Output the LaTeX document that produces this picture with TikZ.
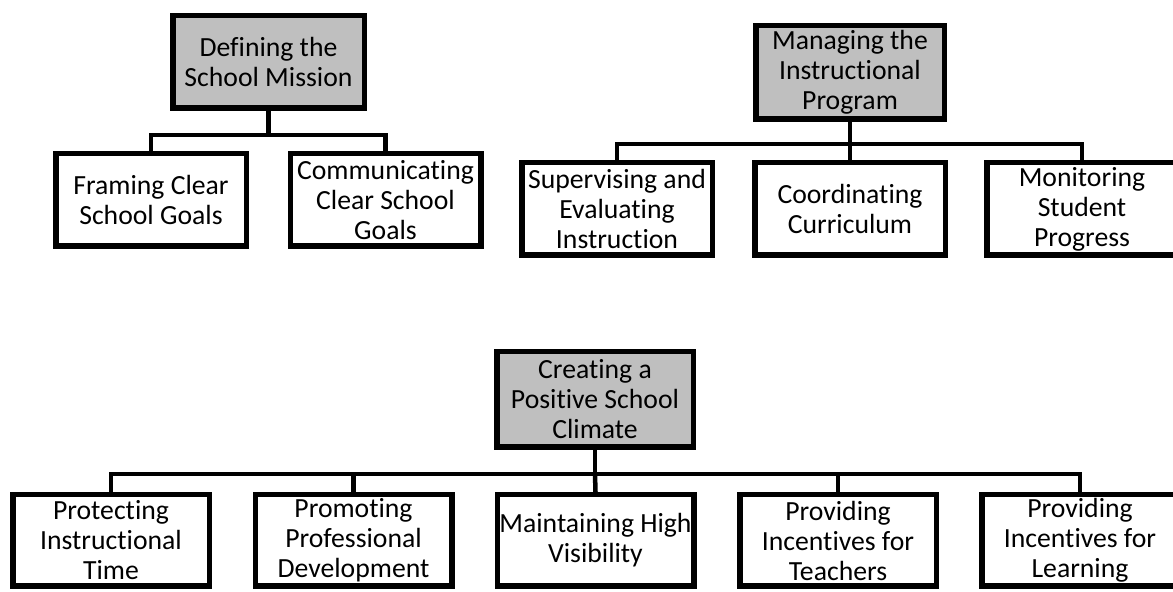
\documentclass[tikz,border=0pt]{standalone}
\usepackage{fontspec}
\setmainfont{Carlito}[Ligatures=NoCommon]
\usepackage{tikz}
\usetikzlibrary{positioning}
\definecolor{headgray}{RGB}{191,191,191}

\tikzset{
  leaf/.style={draw, line width=2.75pt, fill=white, inner sep=1pt, align=center,
    font=\fontsize{13.85pt}{15pt}\selectfont},
  head/.style={leaf, fill=headgray},
  topbox/.style={minimum width=95.25pt, minimum height=46.25pt},
  lowbox/.style={minimum width=98.25pt, minimum height=45.75pt},
  link/.style={line width=2.25pt}
}

\begin{document}
\begin{tikzpicture}[x=0.5pt,y=-0.5pt]
\useasboundingbox (0,0) rectangle (1173,592);
\clip (0,0) rectangle (1173,592);

% defining the school mission
\node[head,minimum width=95.75pt,minimum height=46.25pt] (mission) at (268.5,62) {Defining the\\School Mission};
\node[leaf,topbox] (framing)       at (151,200)   {Framing Clear\\School Goals};
\node[leaf,topbox] (communicating) at (385.5,200) {Communicating\\Clear School\\Goals};

% managing the instructional program
\node[head,minimum width=94.25pt,minimum height=46.75pt] (program) at (850,72.5) {Managing the\\Instructional\\Program};
\node[leaf,topbox] (supervising)  at (617,209)  {Supervising and\\Evaluating\\Instruction};
\node[leaf,topbox] (coordinating) at (850,209)  {Coordinating\\Curriculum};
\node[leaf,topbox] (monitoring)   at (1082,209) {Monitoring\\Student\\Progress};

% creating a positive school climate
\node[head,minimum width=98.25pt,minimum height=47.75pt] (climate) at (595,399.5) {Creating a\\Positive School\\Climate};
\node[leaf,lowbox] (protecting)  at (111,540.5)   {Protecting\\Instructional\\Time};
\node[leaf,lowbox] (promoting)   at (353.5,540.5) {Promoting\\Professional\\Development};
\node[leaf,lowbox] (visibility)  at (595.5,540.5) {Maintaining High\\Visibility};
\node[leaf,lowbox] (teachers)    at (838,540.5)   {Providing\\Incentives for\\Teachers};
\node[leaf,lowbox] (learning)    at (1080,540.5)  {Providing\\Incentives for\\Learning};

% connectors
\draw[link] (mission.south) -- ++(0,24) coordinate (mbus);
\draw[link] (framing.north) |- (mbus) -| (communicating.north);

\draw[link] (program.south) -- ++(0,22) coordinate (pbus);
\draw[link] (supervising.north) |- (pbus) -| (monitoring.north);
\draw[link] (pbus) -- (coordinating.north);

\draw[link] (climate.south) -- ++(0,24) coordinate (cbus);
\draw[link] (protecting.north) |- (cbus) -| (learning.north);
\draw[link] (cbus) -- (visibility.north);
\draw[link] (promoting.north) -- (promoting.north |- cbus);
\draw[link] (teachers.north) -- (teachers.north |- cbus);
\end{tikzpicture}
\end{document}
